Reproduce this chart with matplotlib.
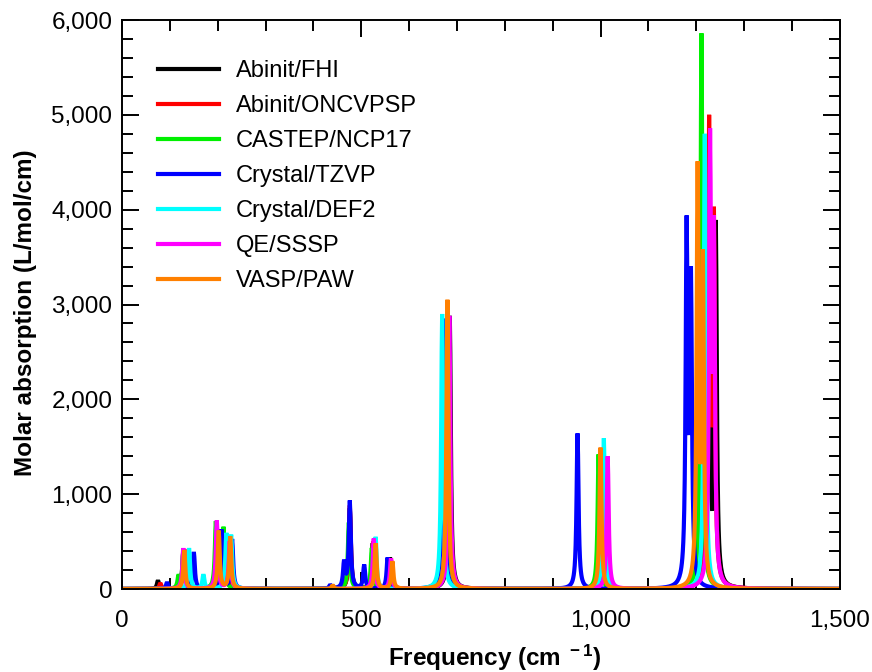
import numpy as np
import matplotlib
matplotlib.use("Agg")
import matplotlib.pyplot as plt
from matplotlib.ticker import FuncFormatter, MultipleLocator

plt.rcParams['font.family'] = ['Liberation Sans', 'DejaVu Sans']
plt.rcParams['mathtext.default'] = 'regular'

# Peak positions (cm-1) and stick intensities (L/mol/cm)
LABELS = ['Abinit/FHI', 'Abinit/ONCVPSP', 'CASTEP/NCP17', 'Crystal/TZVP',
          'Crystal/DEF2', 'QE/SSSP', 'VASP/PAW']
COLORS = ['#000000', '#ff0000', '#00f000', '#0000ff', '#00ffff', '#ff00ff', '#ff8000']

FHI_FREQ = [75, 128, 200, 222, 476, 524, 560, 685, 1003, 1226, 1241]
FHI_HEIGHT = [90, 400, 620, 520, 850, 480, 330, 2880, 1400, 4500, 3770]

ONCV_FREQ = [80, 130, 200, 222, 440, 476, 525, 562, 680, 1003, 1227, 1237]
ONCV_HEIGHT = [60, 420, 620, 540, 30, 880, 500, 320, 2900, 1450, 4780, 3750]

CASTEP_FREQ = [118, 128, 196, 212, 474, 522, 558, 680, 996, 1211]
CASTEP_HEIGHT = [130, 400, 700, 640, 700, 430, 300, 2900, 1420, 5860]

TZVP_FREQ = [94, 150, 208, 230, 435, 464, 476, 506, 555, 671, 952, 1180, 1189]
TZVP_HEIGHT = [70, 390, 620, 520, 40, 270, 920, 250, 330, 2850, 1640, 3715, 3135]

DEF2_FREQ = [140, 170, 218, 228, 530, 669, 1007, 1218]
DEF2_HEIGHT = [430, 150, 560, 540, 550, 2900, 1590, 4800]

SSSP_FREQ = [128, 198, 225, 526, 562, 684, 1015, 1229, 1237]
SSSP_HEIGHT = [430, 720, 500, 530, 320, 2880, 1400, 4545, 3535]

PAW_FREQ = [130, 202, 226, 440, 530, 565, 680, 1000, 1203, 1214]
PAW_HEIGHT = [410, 610, 550, 40, 480, 290, 3050, 1490, 4345, 3370]

ALL_FREQ = [FHI_FREQ, ONCV_FREQ, CASTEP_FREQ, TZVP_FREQ, DEF2_FREQ, SSSP_FREQ, PAW_FREQ]
ALL_HEIGHT = [FHI_HEIGHT, ONCV_HEIGHT, CASTEP_HEIGHT, TZVP_HEIGHT, DEF2_HEIGHT, SSSP_HEIGHT, PAW_HEIGHT]

HWHM = 2.5  # Lorentzian half width (cm-1)


def spectrum(x, freqs, heights):
    y = np.zeros_like(x)
    for f, h in zip(freqs, heights):
        y += h / (1.0 + ((x - f) / HWHM) ** 2)
    return y


def main():
    x = np.arange(0, 1501, 1.0)

    fig = plt.figure(figsize=(8.72, 6.72), dpi=100)
    ax = fig.add_axes([0.140, 0.1235, 0.823, 0.8467])

    for label, color, freqs, heights in zip(LABELS, COLORS, ALL_FREQ, ALL_HEIGHT):
        ax.plot(x, spectrum(x, freqs, heights), color=color, linewidth=3,
                solid_joinstyle='bevel', label=label)

    ax.set_xlim(0, 1500)
    ax.set_ylim(0, 6000)
    ax.xaxis.set_major_locator(MultipleLocator(500))
    ax.xaxis.set_minor_locator(MultipleLocator(100))
    ax.yaxis.set_major_locator(MultipleLocator(1000))
    ax.yaxis.set_minor_locator(MultipleLocator(200))
    fmt = FuncFormatter(lambda v, p: f'{v:,.0f}')
    ax.xaxis.set_major_formatter(fmt)
    ax.yaxis.set_major_formatter(fmt)

    ax.tick_params(which='both', direction='in', top=True, right=True, width=1.4,
                   labelsize=17.5)
    ax.tick_params(axis='x', which='both', pad=15)
    ax.tick_params(axis='y', which='both', pad=7)
    ax.tick_params(which='major', length=12)
    ax.tick_params(which='minor', length=8)
    for s in ax.spines.values():
        s.set_linewidth(1.4)

    ax.set_xlabel(r'Frequency (cm$^{\ -1}$)', fontsize=17.5, fontweight='bold', labelpad=8)
    ax.set_ylabel('Molar absorption (L/mol/cm)', fontsize=17.5, fontweight='bold', labelpad=10)
    ax.xaxis.label.set_x(0.52)
    ax.yaxis.label.set_y(0.485)

    leg = ax.legend(loc='upper left', bbox_to_anchor=(0.05, 0.93), frameon=False,
                    fontsize=17, handlelength=2.6, handletextpad=0.7,
                    labelspacing=0.55, borderaxespad=0, borderpad=0)
    for line in leg.get_lines():
        line.set_linewidth(3)

    fig.savefig('out.png', dpi=100)


if __name__ == '__main__':
    main()
